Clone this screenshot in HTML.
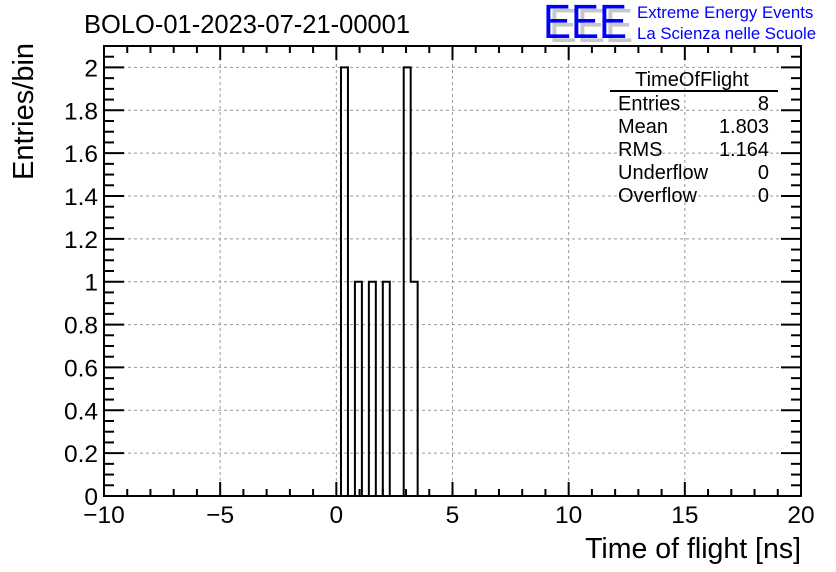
<!DOCTYPE html>
<html><head><meta charset="utf-8"><style>
body{margin:0;background:#fff;}
svg{display:block;font-family:"Liberation Sans",sans-serif;}
</style></head><body>
<svg width="836" height="572" viewBox="0 0 836 572">
<rect width="836" height="572" fill="#fff"/>
<text x="84" y="33" font-size="25.5">BOLO-01-2023-07-21-00001</text>
<g>
<text x="549" y="42" font-size="48" fill="#c8c8c8" textLength="84" lengthAdjust="spacingAndGlyphs">EEE</text>
<text x="543" y="38" font-size="48" fill="#0000ff" textLength="84" lengthAdjust="spacingAndGlyphs">EEE</text>
<text x="637" y="18" font-size="16.8" fill="#0000ff">Extreme Energy Events</text>
<text x="637" y="39" font-size="16.8" fill="#0000ff">La Scienza nelle Scuole</text>
</g>
<g id="grid"></g>
<g id="axes"></g>
<path id="hist" fill="none" stroke="#000" stroke-width="2"/>
<rect x="104" y="46" width="697" height="450" fill="none" stroke="#000" stroke-width="2"/>
<g font-size="20">
<text x="692" y="86" text-anchor="middle">TimeOfFlight</text>
<line x1="610" y1="91" x2="778" y2="91" stroke="#000" stroke-width="2"/>
<text x="618" y="110">Entries</text><text x="769" y="110" text-anchor="end">8</text>
<text x="618" y="133">Mean</text><text x="769" y="133" text-anchor="end">1.803</text>
<text x="618" y="156">RMS</text><text x="769" y="156" text-anchor="end">1.164</text>
<text x="618" y="179">Underflow</text><text x="769" y="179" text-anchor="end">0</text>
<text x="618" y="202">Overflow</text><text x="769" y="202" text-anchor="end">0</text>
</g>
<text x="801" y="558" font-size="28.5" text-anchor="end">Time of flight [ns]</text>
<text transform="translate(33,180) rotate(-90)" font-size="29">Entries/bin</text>
</svg>
<script>
const binEdgesStart = 0.2;
const binWidth = 0.3;
const binCounts = [2,0,1,0,1,0,1,0,0,2,1];
const xTicks = [-10,-5,0,5,10,15,20];
const yTicks = [0,0.2,0.4,0.6,0.8,1,1.2,1.4,1.6,1.8,2];
const yTickLabels = ["0","0.2","0.4","0.6","0.8","1","1.2","1.4","1.6","1.8","2"];
const X0=104,X1=801,Y0=496,Y1=46,xmin=-10,xmax=20,ymin=0,ymax=2.1;
const sx=v=>X0+(v-xmin)/(xmax-xmin)*(X1-X0);
const sy=v=>Y0-(v-ymin)/(ymax-ymin)*(Y0-Y1);
const NS="http://www.w3.org/2000/svg";
const grid=document.getElementById('grid'),axes=document.getElementById('axes');
function mk(t,a,p){const e=document.createElementNS(NS,t);for(const k in a)e.setAttribute(k,a[k]);p.appendChild(e);return e;}
xTicks.forEach(v=>{
  const l=mk('line',{x1:sx(v),x2:sx(v),y1:Y1,y2:Y0,stroke:'#999','stroke-dasharray':'3,3'},grid);
  
  
  const t=mk('text',{x:sx(v),y:523,'font-size':24.5,'text-anchor':'middle'},axes);
  t.textContent=v<0?'\u2212'+(-v):String(v);
  
  
});
yTicks.forEach((v,i)=>{
  const l=mk('line',{x1:X0,x2:X1,y1:sy(v),y2:sy(v),stroke:'#999','stroke-dasharray':'3,3'},grid);
  
  
  const t=mk('text',{x:98,y:sy(v)+9,'font-size':24.5,'text-anchor':'end'},axes);
  t.textContent=yTickLabels[i];
  
  
});
for(let v=xmin;v<=xmax;v+=1){const L=(v%5===0)?14:7;
  mk('line',{x1:sx(v),x2:sx(v),y1:Y0,y2:Y0-L,stroke:'#000','stroke-width':2},axes);
  mk('line',{x1:sx(v),x2:sx(v),y1:Y1,y2:Y1+L,stroke:'#000','stroke-width':2},axes);}
for(let k=0;k*0.05<=ymax+1e-9;k++){const v=k*0.05,L=(k%4===0)?20:10;
  mk('line',{x1:X0,x2:X0+L,y1:sy(v),y2:sy(v),stroke:'#000','stroke-width':2},axes);
  mk('line',{x1:X1,x2:X1-L,y1:sy(v),y2:sy(v),stroke:'#000','stroke-width':2},axes);}
let d='M'+sx(xmin)+','+sy(0)+' L'+sx(binEdgesStart)+','+sy(0);
binCounts.forEach((c,i)=>{const a=binEdgesStart+i*binWidth,b=a+binWidth;
  d+=' L'+sx(a)+','+sy(c)+' L'+sx(b)+','+sy(c);});
const end=binEdgesStart+binCounts.length*binWidth;
d+=' L'+sx(end)+','+sy(0)+' L'+sx(xmax)+','+sy(0);
document.getElementById('hist').setAttribute('d',d);
</script>
</body></html>
